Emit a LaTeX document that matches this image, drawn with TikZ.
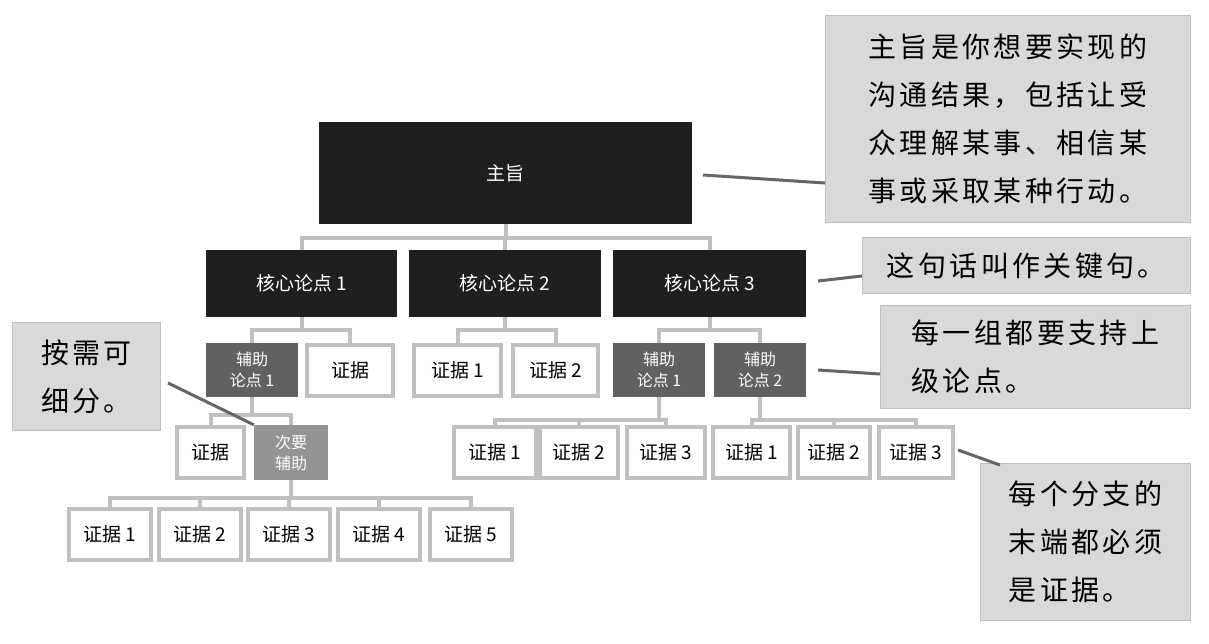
\documentclass[tikz,border=0pt]{standalone}
\usepackage{fontspec}
\newfontfamily\cjk{Noto Sans CJK SC}
\newfontfamily\cjknote[LetterSpace=12]{Noto Sans CJK SC}

\begin{document}
\begin{tikzpicture}[x=1pt,y=-1pt,
    every node/.style={inner sep=0pt, align=center},
    box/.style={minimum width=#1, font=\cjk\fontsize{19}{22}\selectfont},
    mainbox/.style={box=#1, fill=black!88, text=white, minimum height=102pt},
    corebox/.style={box=#1, fill=black!88, text=white, minimum height=67pt},
    subbox/.style={box=#1, fill=black!62, text=white, minimum height=54pt, font=\cjk\fontsize{16}{21}\selectfont},
    minorbox/.style={box=#1, fill=black!42, text=white, minimum height=55pt, font=\cjk\fontsize{16}{21}\selectfont},
    evbox/.style={box=#1, fill=white, draw=black!25, line width=4pt, minimum height=51pt},
    note/.style={fill=black!15, draw=black!25, line width=0.8pt, anchor=north west, align=left,
      inner xsep=22pt, font=\cjknote\fontsize{28}{48}\selectfont},
    conn/.style={draw=black!25, line width=4pt},
    pointer/.style={draw=black!60, line width=3pt}]
  \useasboundingbox (0,0) rectangle (1209,643);

  \node[mainbox=373pt] (M) at (505.5,173) {主旨};

  \node[corebox=191pt] (C1) at (301.5,283.5) {核心论点 1};
  \node[corebox=192pt] (C2) at (505,283.5) {核心论点 2};
  \node[corebox=193pt] (C3) at (709.5,283.5) {核心论点 3};

  \node[subbox=92pt] (S1) at (252,370) {辅助\\论点 1};
  \node[evbox=86pt] (E0) at (350,370) {证据};
  \node[evbox=87pt] (E21) at (457.5,370) {证据 1};
  \node[evbox=85pt] (E22) at (555.5,370) {证据 2};
  \node[subbox=92pt] (S31) at (659,370) {辅助\\论点 1};
  \node[subbox=92pt] (S32) at (760,370) {辅助\\论点 2};

  \node[evbox=67pt] (L1) at (210.5,452.5) {证据};
  \node[minorbox=74pt] (T) at (291,452.5) {次要\\辅助};

  \node[evbox=82pt] (G1) at (495,452.5) {证据 1};
  \node[evbox=78pt] (G2) at (579,452.5) {证据 2};
  \node[evbox=78pt] (G3) at (666,452.5) {证据 3};
  \node[evbox=77pt] (H1) at (751.5,452.5) {证据 1};
  \node[evbox=72pt] (H2) at (834,452.5) {证据 2};
  \node[evbox=74pt] (H3) at (916,452.5) {证据 3};

  \node[evbox=82pt] (F1) at (110,534.5) {证据 1};
  \node[evbox=82pt] (F2) at (200,534.5) {证据 2};
  \node[evbox=82pt] (F3) at (289,534.5) {证据 3};
  \node[evbox=82pt] (F4) at (379,534.5) {证据 4};
  \node[evbox=82pt] (F5) at (471,534.5) {证据 5};

  % tree connectors
  \foreach \c in {C1,C2,C3}
    \draw[conn] (M.south) -- ++(0,14) -| (\c.north);
  \foreach \c in {S1,E0}
    \draw[conn] (C1.south) -- ++(0,13) -| (\c.north);
  \foreach \c in {E21,E22}
    \draw[conn] (C2.south) -- ++(0,13) -| (\c.north);
  \foreach \c in {S31,S32}
    \draw[conn] (C3.south) -- ++(0,13) -| (\c.north);
  \foreach \c in {L1,T}
    \draw[conn] (S1.south) -- ++(0,18) -| (\c.north);
  \foreach \c in {G1,G2,G3}
    \draw[conn] (S31.south) -- ++(0,23) -| (\c.north);
  \foreach \c in {H1,H2,H3}
    \draw[conn] (S32.south) -- ++(0,23) -| (\c.north);
  \foreach \c in {F1,F2,F3,F4,F5}
    \draw[conn] (T.south) -- ++(0,18) -| (\c.north);

  % notes
  \node[note, minimum width=365pt, minimum height=207pt] (N1) at (825,15)
    {主旨是你想要实现的\\沟通结果，包括让受\\众理解某事、相信某\\事或采取某种行动。};
  \node[note, minimum width=328pt, minimum height=56pt] (N2) at (862,237) {这句话叫作关键句。};
  \node[note, minimum width=310pt, minimum height=103pt] (N3) at (880,305) {每一组都要支持上\\级论点。};
  \node[note, minimum width=210pt, minimum height=157pt] (N4) at (980,463) {每个分支的\\末端都必须\\是证据。};
  \node[note, minimum width=148pt, minimum height=108pt, inner xsep=20pt] (N5) at (12,322) {按需可\\细分。};

  \coordinate (P1) at (703,175);
  \coordinate (P2) at (818,281);
  \coordinate (P3) at (818,370);
  \coordinate (P4) at (958,450);
  \coordinate (P5) at (168,383);
  \draw[pointer] (P1) -- (N1.west |- 0,183);
  \draw[pointer] (P2) -- (N2.west |- 0,276);
  \draw[pointer] (P3) -- (N3.west |- 0,374);
  \draw[pointer] (P4) -- (1000,465);
  \draw[pointer] (P5) -- (T.north west);
\end{tikzpicture}
\end{document}
